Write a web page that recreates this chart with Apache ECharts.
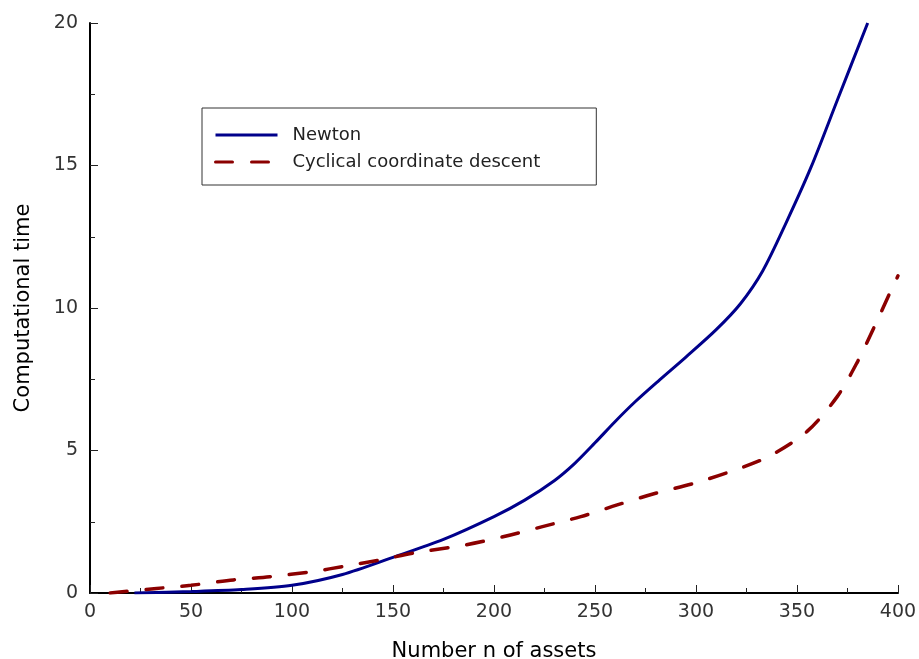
<!DOCTYPE html>
<html>
<head>
<meta charset="utf-8">
<script src="https://cdn.jsdelivr.net/npm/echarts@6/dist/echarts.min.js"></script>
<style>html,body{margin:0;padding:0;background:#fff}#c{width:919px;height:659px}</style>
</head>
<body>
<div id="c"></div>
<script>
const seriesNames = ['Newton', 'Cyclical coordinate descent'];
const newtonN = [22, 50, 75, 100, 125, 150, 175, 200, 215, 230, 240, 250, 260, 270, 282, 295, 310, 322, 333, 345, 357, 370, 385];
const newtonT = [0, 0.05, 0.12, 0.27, 0.65, 1.25, 1.88, 2.68, 3.25, 3.95, 4.55, 5.27, 6.02, 6.72, 7.48, 8.28, 9.24, 10.15, 11.3, 13.05, 14.95, 17.3, 20.0];
const ccdN = [10, 33, 50, 71, 89, 110, 127, 145, 160, 186, 205, 224, 243, 261, 280, 299, 317, 336, 355, 370, 380, 388, 396, 400];
const ccdT = [0, 0.16, 0.27, 0.46, 0.57, 0.75, 0.95, 1.18, 1.40, 1.69, 1.98, 2.33, 2.68, 3.09, 3.50, 3.85, 4.26, 4.79, 5.67, 6.90, 8.12, 9.30, 10.53, 11.13];
const xTitle = 'Number n of assets';
const yTitle = 'Computational time';

const font = 'DejaVu Sans';
const chart = echarts.init(document.getElementById('c'), null, {renderer: 'canvas'});
const axisCommon = {
  axisLine: {show: true, onZero: false, lineStyle: {color: '#000', width: 2}},
  axisTick: {show: true, inside: true, length: 8, lineStyle: {color: '#222', width: 1}},
  minorTick: {show: true, splitNumber: 2, length: 5, lineStyle: {color: '#222', width: 1}},
  splitLine: {show: false},
  axisLabel: {fontFamily: font, fontSize: 19, color: '#333'},
  nameLocation: 'middle',
  nameTextStyle: {fontFamily: font, fontSize: 21, color: '#000'}
};
chart.setOption({
  animation: false,
  backgroundColor: '#fff',
  grid: {left: 90, right: 21, top: 23, bottom: 66, containLabel: false, outerBoundsMode: 'none'},
  xAxis: Object.assign({}, axisCommon, {
    type: 'value', min: 0, max: 400, interval: 50,
    name: xTitle, nameGap: 48,
    axisLabel: Object.assign({}, axisCommon.axisLabel, {margin: 10})
  }),
  yAxis: Object.assign({}, axisCommon, {
    type: 'value', min: 0, max: 20, interval: 5,
    name: yTitle, nameGap: 56,
    axisLabel: Object.assign({}, axisCommon.axisLabel, {margin: 12})
  }),
  legend: {
    orient: 'vertical', left: 202, top: 108,
    padding: [18, 56, 14, 12],
    borderColor: '#333', borderWidth: 1,
    itemWidth: 62, itemHeight: 18, itemGap: 9,
    itemStyle: {color: 'transparent', borderWidth: 0, opacity: 0},
    lineStyle: {width: 3},
    textStyle: {fontFamily: font, fontSize: 18, color: '#222', padding: [0, 0, 0, 10]},
    data: seriesNames
  },
  series: [
    {
      name: seriesNames[0], type: 'line', smooth: 0.3,
      symbol: 'none', data: newtonN.map((n, i) => [n, newtonT[i]]),
      lineStyle: {color: '#00008B', width: 3}, itemStyle: {color: '#00008B'}
    },
    {
      name: seriesNames[1], type: 'line', smooth: 0.3,
      symbol: 'none', data: ccdN.map((n, i) => [n, ccdT[i]]),
      lineStyle: {color: '#8B0000', width: 3.5, type: [17, 19], cap: 'round'}, itemStyle: {color: '#8B0000'}
    }
  ]
});
</script>
</body>
</html>
